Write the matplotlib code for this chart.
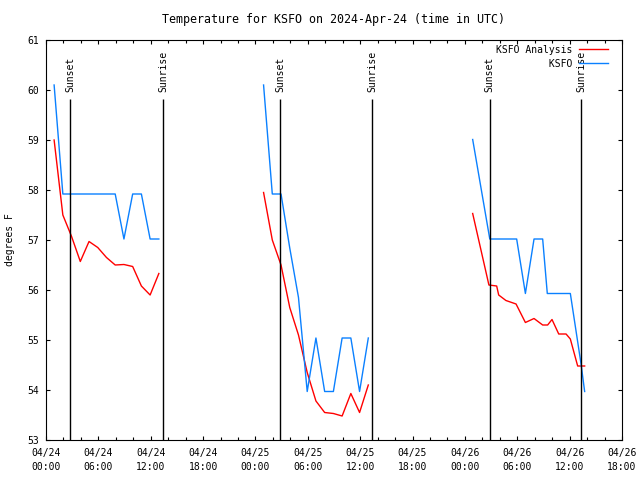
import pandas as pd
import matplotlib
matplotlib.use('Agg')
import matplotlib.pyplot as plt
import matplotlib.dates as mdates

plt.rcParams['font.family'] = 'DejaVu Sans Mono'
plt.rcParams['font.size'] = 7

start = pd.Timestamp('2024-04-24 00:00')

# times are hours after 04/24 00:00 UTC, values in deg F
anl_t1 = [0.93, 1.93, 2.93, 3.93, 4.93, 5.93, 6.93, 7.93, 8.93, 9.93, 10.93, 11.93, 12.93]
anl_v1 = [59.0, 57.5, 57.07, 56.57, 56.97, 56.85, 56.65, 56.5, 56.51, 56.47, 56.08, 55.9, 56.33]
obs_t1 = [0.93, 1.93, 7.93, 8.93, 9.93, 10.93, 11.93, 12.93]
obs_v1 = [60.1, 57.92, 57.92, 57.02, 57.92, 57.92, 57.02, 57.02]

anl_t2 = [24.93, 25.93, 26.93, 27.93, 28.93, 29.93, 30.93, 31.93, 32.93, 33.93, 34.93, 35.93, 36.93]
anl_v2 = [57.95, 57.0, 56.5, 55.65, 55.1, 54.35, 53.78, 53.55, 53.53, 53.48, 53.93, 53.55, 54.1]
obs_t2 = [24.93, 25.93, 26.93, 27.93, 28.93, 29.93, 30.93, 31.93, 32.93, 33.93, 34.93, 35.93, 36.93]
obs_v2 = [60.1, 57.92, 57.92, 56.84, 55.85, 53.97, 55.04, 53.97, 53.97, 55.04, 55.04, 53.97, 55.04]

anl_t3 = [48.89, 50.75, 51.64, 51.87, 52.7, 53.86, 54.93, 55.92, 56.91, 57.48, 57.98, 58.75, 59.59, 60.08, 60.92, 61.72]
anl_v3 = [57.53, 56.1, 56.08, 55.9, 55.79, 55.72, 55.35, 55.43, 55.3, 55.3, 55.41, 55.12, 55.12, 55.02, 54.48, 54.48]
obs_t3 = [48.89, 50.85, 53.93, 54.93, 55.92, 56.91, 57.44, 60.08, 61.3, 61.72]
obs_v3 = [59.01, 57.02, 57.02, 55.93, 57.02, 57.02, 55.93, 55.93, 54.53, 53.97]

sunset_t = [2.78, 26.83, 50.83]
sunrise_t = [13.45, 37.4, 61.35]

xtick_labels = ['04/24\n00:00', '04/24\n06:00', '04/24\n12:00', '04/24\n18:00',
                '04/25\n00:00', '04/25\n06:00', '04/25\n12:00', '04/25\n18:00',
                '04/26\n00:00', '04/26\n06:00', '04/26\n12:00', '04/26\n18:00']


def to_time(hours):
    return start + pd.to_timedelta(hours, unit='h')


fig = plt.figure(figsize=(6.4, 4.8), dpi=100)
ax = fig.add_axes([46 / 640, 40 / 480, 576 / 640, 400 / 480])

anl_segs = [(anl_t1, anl_v1), (anl_t2, anl_v2), (anl_t3, anl_v3)]
obs_segs = [(obs_t1, obs_v1), (obs_t2, obs_v2), (obs_t3, obs_v3)]
for i, (t, v) in enumerate(anl_segs):
    ax.plot(to_time(t), v, color='#ff0000', lw=1.0,
            label='KSFO Analysis' if i == 0 else None)
for i, (t, v) in enumerate(obs_segs):
    ax.plot(to_time(t), v, color='#0a80ff', lw=1.0,
            label='         KSFO' if i == 0 else None)

# sunset / sunrise markers
for name, times in [('Sunset', sunset_t), ('Sunrise', sunrise_t)]:
    for t in times:
        x = to_time(t)
        ax.vlines(x, 53, 59.83, color='black', lw=1.0)
        ax.text(x, 59.97, name, rotation=90, ha='center', va='bottom')

ax.set_xlim(to_time(0), to_time(66))
ax.set_ylim(53, 61)

ax.set_xticks(to_time([0, 6, 12, 18, 24, 30, 36, 42, 48, 54, 60, 66]))
ax.set_xticklabels(xtick_labels)
ax.xaxis.set_minor_locator(mdates.HourLocator(byhour=range(0, 24, 2)))
ax.set_yticks(range(53, 62))
for lbl in ax.get_xticklabels():
    lbl.set_linespacing(1.45)

ax.tick_params(which='both', direction='in', top=True, right=True, width=0.8)
ax.tick_params(which='major', length=3.2)
ax.tick_params(which='minor', length=2)
ax.tick_params(axis='x', pad=6)
ax.tick_params(axis='y', pad=5)

ax.set_ylabel('degrees F', labelpad=9)
ax.set_title('Temperature for KSFO on 2024-Apr-24 (time in UTC)', pad=12)

ax.legend(loc='upper right', bbox_to_anchor=(1 - 9 / 576, 1), frameon=False,
          markerfirst=False, handlelength=3.0, handletextpad=0.7,
          labelspacing=0.4, borderpad=0.2, borderaxespad=0.3)

fig.savefig('out.png', dpi=100)
